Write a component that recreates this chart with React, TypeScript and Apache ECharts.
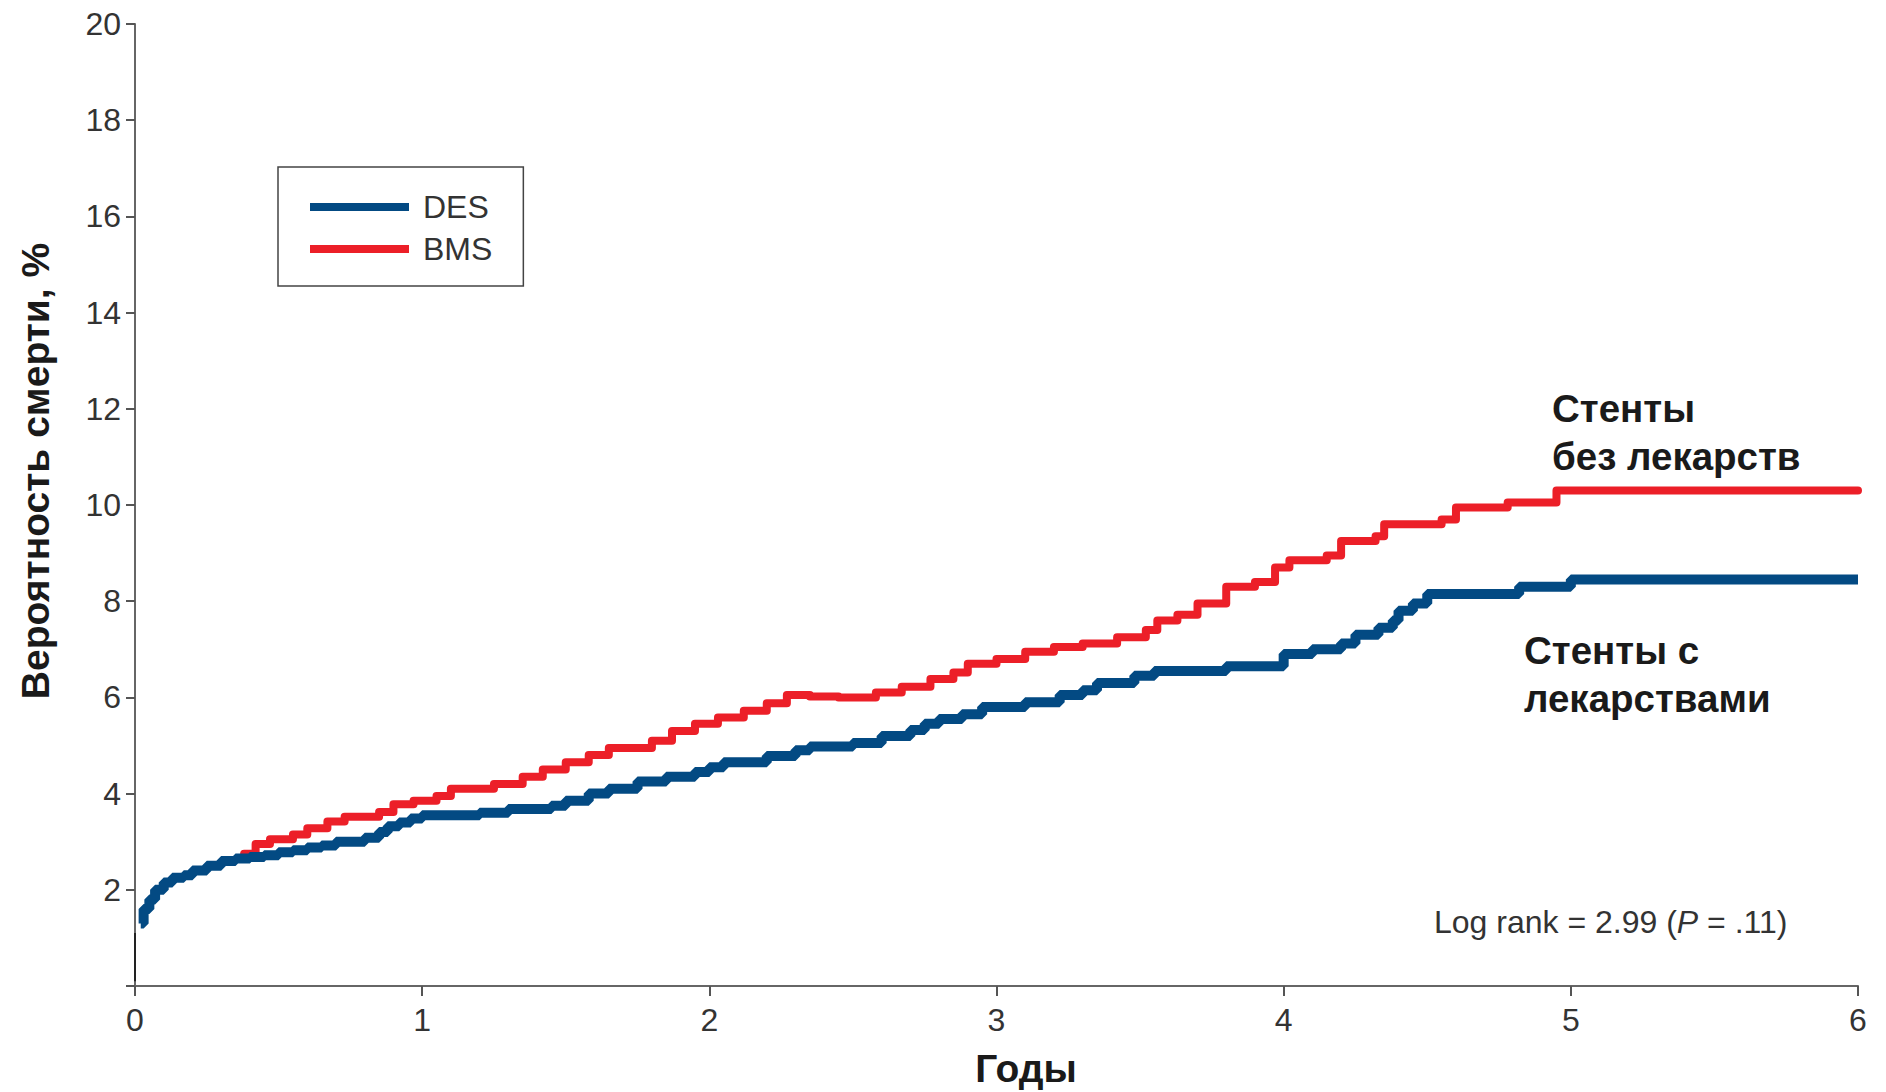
import React, { useEffect, useRef } from "react";
import * as echarts from "echarts";

// DES (drug-eluting stents) – cumulative probability of death, % vs years
const desData: [number, number][] = [
  [0.02, 1.3], [0.03, 1.6], [0.05, 1.8], [0.07, 2.0], [0.1, 2.15], [0.13, 2.25],
  [0.17, 2.3], [0.2, 2.4], [0.25, 2.5], [0.3, 2.6], [0.35, 2.65], [0.4, 2.68],
  [0.45, 2.72], [0.5, 2.78], [0.55, 2.82], [0.6, 2.88], [0.65, 2.92], [0.7, 3.0],
  [0.8, 3.08], [0.85, 3.2], [0.88, 3.32], [0.92, 3.4], [0.96, 3.48], [1.0, 3.55],
  [1.2, 3.6], [1.3, 3.68], [1.45, 3.75], [1.5, 3.85], [1.58, 4.0], [1.65, 4.1],
  [1.75, 4.25], [1.85, 4.35], [1.95, 4.45], [2.0, 4.55], [2.05, 4.65], [2.2, 4.78],
  [2.3, 4.9], [2.35, 4.98], [2.5, 5.05], [2.6, 5.2], [2.7, 5.32], [2.75, 5.45],
  [2.8, 5.55], [2.88, 5.65], [2.95, 5.8], [3.1, 5.9], [3.22, 6.05], [3.3, 6.15],
  [3.35, 6.3], [3.48, 6.45], [3.55, 6.55], [3.8, 6.65], [4.0, 6.9], [4.1, 7.0],
  [4.2, 7.12], [4.25, 7.3], [4.33, 7.45], [4.38, 7.6], [4.4, 7.8], [4.45, 7.95],
  [4.5, 8.15], [4.82, 8.3], [5.0, 8.45], [6.0, 8.45]
];

// BMS (bare-metal stents)
const bmsData: [number, number][] = [
  [0.38, 2.75], [0.42, 2.95], [0.47, 3.05], [0.55, 3.15], [0.6, 3.28], [0.67, 3.42],
  [0.73, 3.52], [0.85, 3.62], [0.9, 3.78], [0.97, 3.85], [1.05, 3.95], [1.1, 4.1],
  [1.25, 4.2], [1.35, 4.35], [1.42, 4.5], [1.5, 4.65], [1.58, 4.8], [1.65, 4.95],
  [1.8, 5.1], [1.87, 5.3], [1.95, 5.45], [2.03, 5.58], [2.12, 5.72], [2.2, 5.88],
  [2.27, 6.05], [2.35, 6.02], [2.45, 6.0], [2.58, 6.1], [2.67, 6.22], [2.77, 6.38],
  [2.85, 6.52], [2.9, 6.7], [3.0, 6.8], [3.1, 6.95], [3.2, 7.05], [3.3, 7.12],
  [3.42, 7.25], [3.52, 7.4], [3.56, 7.6], [3.63, 7.72], [3.7, 7.95], [3.8, 8.3],
  [3.9, 8.4], [3.97, 8.7], [4.02, 8.85], [4.15, 8.95], [4.2, 9.25], [4.32, 9.35],
  [4.35, 9.6], [4.55, 9.7], [4.6, 9.95], [4.78, 10.05], [4.95, 10.3], [6.0, 10.3]
];

// short initial segment at time zero
const startData: [number, number][] = [[0, 0.1], [0, 1.1]];

const xTicks = [0, 1, 2, 3, 4, 5, 6];
const yTicks = [0, 2, 4, 6, 8, 10, 12, 14, 16, 18, 20];

const seriesNames = ["DES", "BMS"];
const annotationBMS = ["Стенты", "без лекарств"];
const annotationDES = ["Стенты с", "лекарствами"];
const statText = "Log rank = 2.99 (";

const NARROW = "'Liberation Sans Narrow', 'Arial Narrow', 'Liberation Sans', sans-serif";
const BOLD = "'Liberation Sans', Arial, sans-serif";

export default function App() {
  const ref = useRef<HTMLDivElement>(null);
  useEffect(() => {
    document.body.style.margin = "0";
    if (!ref.current) return;
    const chart = echarts.init(ref.current, null, { renderer: "svg" });
    chart.setOption({
      animation: false,
      backgroundColor: "#fff",
      grid: { left: 135, right: 28, top: 24, bottom: 106, containLabel: false },
      legend: {
        data: seriesNames,
        orient: "vertical",
        left: 278,
        top: 167,
        icon: "rect",
        itemWidth: 99,
        itemHeight: 8,
        itemGap: 10,
        borderColor: "#444",
        borderWidth: 1.5,
        padding: [24, 31, 21, 32],
        textStyle: { fontFamily: NARROW, fontSize: 32, color: "#333", padding: [0, 0, 0, 9], lineHeight: 32 },
      },
      xAxis: {
        type: "value",
        min: 0,
        max: 6,
        interval: 1,
        splitLine: { show: false },
        axisLine: { show: true, onZero: false, lineStyle: { color: "#666", width: 2 } },
        axisTick: { show: true, length: 10, lineStyle: { color: "#555", width: 2 } },
        axisLabel: {
          margin: 18,
          fontFamily: NARROW,
          fontSize: 32,
          color: "#333",
          formatter: (v: number) => (xTicks.includes(v) ? String(v) : ""),
        },
      },
      yAxis: {
        type: "value",
        min: 0,
        max: 20,
        interval: 2,
        splitLine: { show: false },
        axisLine: { show: true, lineStyle: { color: "#666", width: 2 } },
        axisTick: { show: true, length: 9, lineStyle: { color: "#555", width: 2 } },
        axisLabel: {
          margin: 14,
          fontFamily: NARROW,
          fontSize: 32,
          color: "#333",
          formatter: (v: number) => (v === 0 || !yTicks.includes(v) ? "" : String(v)),
        },
      },
      series: [
        {
          name: "DES",
          type: "line",
          step: "end",
          data: desData,
          showSymbol: false,
          color: "#034a83",
          lineStyle: { color: "#034a83", width: 10 },
          z: 3,
        },
        {
          name: "BMS",
          type: "line",
          step: "end",
          data: bmsData,
          showSymbol: false,
          color: "#ec1f28",
          lineStyle: { color: "#ec1f28", width: 8, cap: "round", join: "round" },
          z: 2,
        },
        {
          name: "start",
          type: "line",
          data: startData,
          showSymbol: false,
          lineStyle: { color: "#222", width: 2 },
          z: 4,
        },
      ],
      graphic: [
        {
          type: "text",
          x: 35,
          y: 471,
          rotation: Math.PI / 2,
          style: {
            text: "Вероятность смерти, %",
            font: `bold 39px ${BOLD}`,
            fill: "#1a1a1a",
            textAlign: "center",
            textVerticalAlign: "middle",
          },
        },
        {
          type: "text",
          x: 1026,
          y: 1068,
          style: {
            text: "Годы",
            font: `bold 39px ${BOLD}`,
            fill: "#1a1a1a",
            textAlign: "center",
            textVerticalAlign: "middle",
          },
        },
        {
          type: "text",
          x: 1552,
          y: 384,
          style: {
            text: annotationBMS.join("\n"),
            font: `bold 38.5px ${BOLD}`,
            lineHeight: 48,
            fill: "#1a1a1a",
          },
        },
        {
          type: "text",
          x: 1524,
          y: 626,
          style: {
            text: annotationDES.join("\n"),
            font: `bold 38.5px ${BOLD}`,
            lineHeight: 48,
            fill: "#1a1a1a",
          },
        },
        {
          type: "text",
          x: 1434,
          y: 922,
          style: {
            text: `{n|${statText}}{i|P}{n| = .11)}`,
            rich: {
              n: { fontFamily: NARROW, fontSize: 32, fill: "#333", color: "#333" },
              i: { fontFamily: NARROW, fontSize: 32, fontStyle: "italic", fill: "#333", color: "#333" },
            },
            textVerticalAlign: "middle",
          },
        },
      ],
    });
    return () => chart.dispose();
  }, []);
  return <div ref={ref} style={{ width: 1886, height: 1092 }} />;
}
